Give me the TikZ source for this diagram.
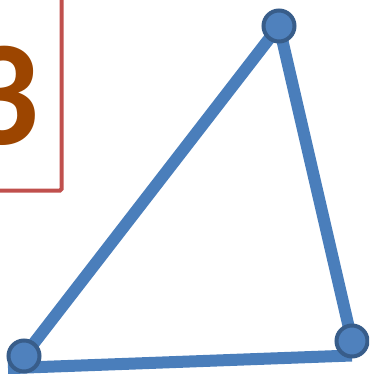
\documentclass[tikz,border=0pt]{standalone}
\usepackage{fontspec}
\setmainfont{Carlito}
\definecolor{edgeblue}{HTML}{4A7EBB}
\definecolor{vfill}{HTML}{4F81BD}
\definecolor{vline}{HTML}{385D8A}
\definecolor{boxred}{HTML}{C0504D}
\definecolor{numbrown}{HTML}{9C4500}
\tikzset{
  vtx/.style={circle, draw=vline, fill=vfill, line width=4pt, minimum size=31pt, inner sep=0pt},
  edgeline/.style={draw=edgeblue, line width=12pt},
  framebox/.style={draw=boxred, line width=4pt, rounded corners=1.5pt},
  bignum/.style={anchor=base east, inner sep=0pt, text=numbrown, font=\bfseries\fontsize{150}{150}\selectfont}
}
\begin{document}
\begin{tikzpicture}[x=1pt,y=-1pt]
\useasboundingbox (0,0) rectangle (369,374);
\clip (0,0) rectangle (369,374);
\draw[framebox] (-30,-30) rectangle (61.5,190.5);
\node[bignum] (num) at (40,144) {3};
\coordinate (tp) at (279,26);
\coordinate (blp) at (24,356);
\coordinate (brp) at (352,341);
\coordinate (blb) at (8,368.2);
\coordinate (brb) at (352,355.5);
\draw[edgeline] (tp) -- (blp);
\draw[edgeline] (tp) -- (brp);
\draw[edgeline] (blb) -- (brb);
\node[vtx] (t) at (tp) {};
\node[vtx] (bl) at (blp) {};
\node[vtx] (br) at (brp) {};
\end{tikzpicture}
\end{document}
